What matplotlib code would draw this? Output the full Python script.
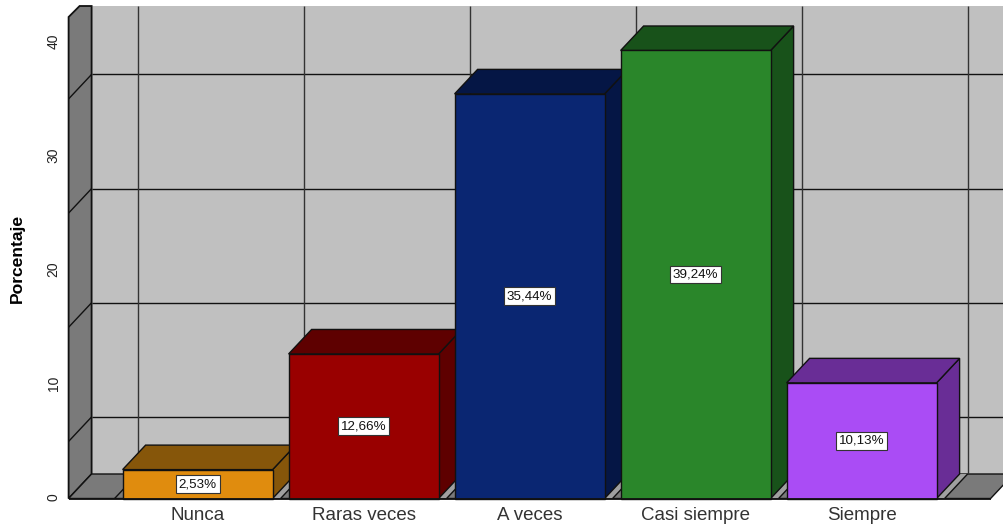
import matplotlib
matplotlib.use("Agg")
import matplotlib.pyplot as plt
from matplotlib.patches import Polygon

categories = ["Nunca", "Raras veces", "A veces", "Casi siempre", "Siempre"]
percentages = [2.53, 12.66, 35.44, 39.24, 10.13]
front_colors = ["#E08C0E", "#990000", "#0A2672", "#2A862A", "#AA4CF5"]
side_colors = ["#86560A", "#5E0000", "#051645", "#18521A", "#692D96"]
y_ticks = [0, 10, 20, 30, 40]
wall_grid = [5, 15, 25, 35]

W, H = 1004, 526
X_UNIT = 166.0       # pixels per category
Y_UNIT = 11.417      # pixels per percentage point
X0 = 197.6           # pixel column of the first category
Y0 = 498.5           # pixel row of the zero line
DX = 23.0 / X_UNIT   # depth of the box, in category units
DY = 24.5 / Y_UNIT   # depth of the box, in percentage units
BAR_W = 150.0 / X_UNIT
TOP = (Y0 - 6) / Y_UNIT
LEFT, RIGHT = -0.5 - 46.0 / X_UNIT, 4.5 + 46.0 / X_UNIT
EDGE = "#111111"

plt.rcParams["font.family"] = "Liberation Sans"
fig = plt.figure(figsize=(W / 100, H / 100), dpi=100)
ax = fig.add_axes([0, 0, 1, 1])
ax.set_xlim(-X0 / X_UNIT, (W - X0) / X_UNIT)
ax.set_ylim((Y0 - H) / Y_UNIT, Y0 / Y_UNIT)
ax.axis("off")


def poly(points, face, z, lw=1.0, edge=EDGE):
    ax.add_patch(Polygon(points, closed=True, facecolor=face, edgecolor=edge,
                         linewidth=lw, zorder=z, joinstyle="miter"))


def line(xs, ys, z=2, lw=1.0, color=EDGE):
    ax.plot(xs, ys, color=color, lw=lw, zorder=z, solid_capstyle="butt")


# Box: back wall, left wall and floor
bx0, bx1 = LEFT + DX, RIGHT + DX
ax.add_patch(Polygon([(bx0, DY), (bx1, DY), (bx1, TOP), (bx0, TOP)],
                     closed=True, facecolor="#C0C0C0", edgecolor="none", zorder=1))
poly([(LEFT, 0), (bx0, DY), (bx0, TOP), (LEFT + 11 / X_UNIT, TOP),
      (LEFT, TOP - 11 / Y_UNIT)], "#7A7A7A", 1.5, lw=1.3)
poly([(LEFT, 0), (RIGHT, 0), (bx1, DY), (bx0, DY)], "#7A7A7A", 1.5, lw=1.0)

# Lighter strip of floor beside each bar
half = BAR_W / 2
for i in range(len(categories)):
    poly([(i + half, 0), (i + 0.5, 0), (i + 0.5 + DX, DY), (i + half + DX, DY)],
         "#A0A0A0", 1.6, lw=0)

# Grid lines on the walls and floor
for v in wall_grid:
    line([bx0, bx1], [v + DY, v + DY])
    line([LEFT, bx0], [v, v + DY])
for k in range(len(categories) + 1):
    c = k - 0.5
    line([c + DX, c + DX], [DY, TOP], color="#333333")
    line([c, c + DX], [0, DY])
line([LEFT, RIGHT], [0, 0], z=6, lw=1.3)

# Bars, drawn with side and top faces
for i, (v, fc, sc) in enumerate(zip(percentages, front_colors, side_colors)):
    z = 3 + i * 0.1
    poly([(i + half, 0), (i + half + DX, DY), (i + half + DX, v + DY), (i + half, v)], sc, z)
    poly([(i - half, v), (i + half, v), (i + half + DX, v + DY), (i - half + DX, v + DY)], sc, z)
    poly([(i - half, 0), (i + half, 0), (i + half, v), (i - half, v)], fc, z)
    ax.text(i, v / 2, f"{v:.2f}%".replace(".", ","), ha="center", va="center",
            fontsize=9.6, color="#111111", zorder=7,
            bbox=dict(boxstyle="square,pad=0.22", fc="white", ec="#333333", lw=0.8))

# Axis labels
for c, name in enumerate(categories):
    ax.text(c, -17.5 / Y_UNIT, name, ha="center", va="center", fontsize=13.5, color="#333333")
for t in y_ticks:
    ax.text(LEFT - 15 / X_UNIT, t + 1 / Y_UNIT, str(t), rotation=90, ha="center", va="center",
            fontsize=10, color="#222222")
ax.text(LEFT - 51 / X_UNIT, (Y0 - 258) / Y_UNIT, "Porcentaje", rotation=90, ha="center",
        va="center", fontsize=12.6, fontweight="bold", color="#000000")

fig.savefig("out.png", dpi=100)
